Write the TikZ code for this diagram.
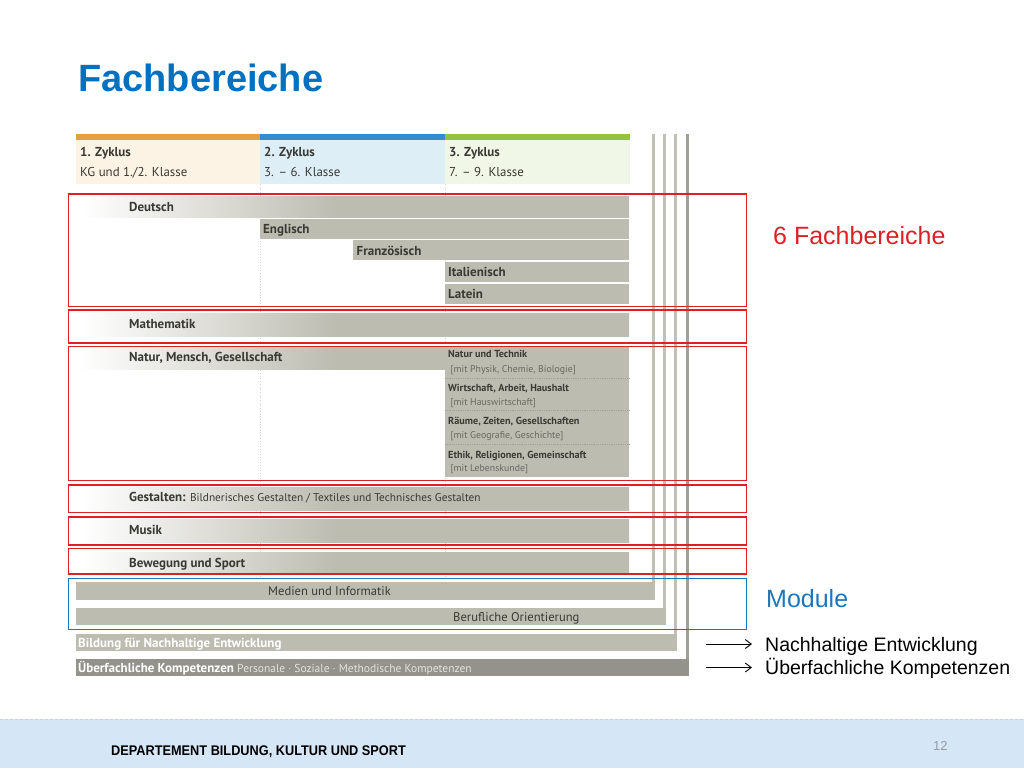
\documentclass[tikz,border=0pt]{standalone}
\usepackage{fontspec}
\setmainfont{Liberation Sans}
\newfontfamily\dinfont{PT Sans}
\usetikzlibrary{arrows.meta}
\definecolor{titleblue}{RGB}{0,112,192}
\definecolor{markred}{RGB}{220,32,38}
\definecolor{moduleblue}{RGB}{28,118,188}
\definecolor{zorange}{RGB}{228,160,62}
\definecolor{zblue}{RGB}{52,140,204}
\definecolor{zgreen}{RGB}{146,196,66}
\definecolor{zorangebg}{RGB}{253,243,228}
\definecolor{zbluebg}{RGB}{221,238,247}
\definecolor{zgreenbg}{RGB}{241,247,231}
\definecolor{bargray}{RGB}{189,188,177}
\definecolor{darkbar}{RGB}{147,147,139}
\definecolor{linegray}{RGB}{193,192,183}
\definecolor{darkline}{RGB}{160,160,151}
\definecolor{bartext}{RGB}{58,58,52}
\definecolor{notegray}{RGB}{105,105,96}
\definecolor{paletext}{RGB}{228,228,222}
\definecolor{footerblue}{RGB}{213,230,246}
\definecolor{pagegray}{RGB}{150,156,166}
% fading bars: white on the left, full gray from about x=335
% (the path box is mapped onto 25bp..75bp of the shading)
\pgfdeclarehorizontalshading{fadebar}{100bp}{color(0bp)=(white); color(25.5bp)=(white); color(48.5bp)=(bargray); color(100bp)=(bargray)}
\pgfdeclarehorizontalshading{fadeshort}{100bp}{color(0bp)=(white); color(25.5bp)=(white); color(60bp)=(bargray); color(100bp)=(bargray)}

\tikzset{
  subject/.style={anchor=base west, inner sep=0pt, text=bartext,
    font=\dinfont\bfseries\fontsize{13}{15}\selectfont},
  plain/.style={anchor=base west, inner sep=0pt, text=bartext,
    font=\dinfont\fontsize{12.6}{15}\selectfont},
  subhead/.style={anchor=base west, inner sep=0pt, text=bartext,
    font=\dinfont\bfseries\fontsize{10.2}{12}\selectfont},
  subnote/.style={anchor=base west, inner sep=0pt, text=notegray,
    font=\dinfont\fontsize{9.8}{12}\selectfont},
  redbox/.style={draw=markred, line width=1.3pt},
  bluebox/.style={draw=moduleblue, line width=1.3pt},
  legend/.style={anchor=base west, inner sep=0pt, text height=14pt, text depth=0pt,
    font=\fontsize{19.5}{22}\selectfont},
  legarrow/.style={-{Straight Barb[length=6pt,width=9pt]}, line width=0.9pt},
}

\begin{document}
\begin{tikzpicture}[x=1pt,y=-1pt]
  \useasboundingbox (0,0) rectangle (1024,768);
  % footer band
  \fill[footerblue] (0,719) rectangle (1024,768);
  \draw[footerblue!80!gray, line width=1pt, dash pattern=on 3pt off 2pt] (0,719) -- (1024,719);
  \node[anchor=base west, inner sep=0pt, font=\bfseries\fontsize{14}{16}\selectfont] (dept) at (111,755)
    {\scalebox{0.91}[1]{DEPARTEMENT BILDUNG, KULTUR UND SPORT}};
  \node[anchor=base west, inner sep=0pt, text=pagegray, font=\fontsize{13}{15}\selectfont] (pageno) at (933,750) {12};

  % title
  \node[anchor=base west, inner sep=0pt, text=titleblue, font=\bfseries\fontsize{38}{40}\selectfont]
    (title) at (78,91) {Fachbereiche};

  % header: three cycles
  \foreach \x/\c/\n/\k in {76/zorange/1/{KG und 1./2. Klasse},
                           260/zblue/2/{3. – 6. Klasse},
                           445/zgreen/3/{7. – 9. Klasse}} {
    \fill[\c] (\x,134) rectangle (\x+184.5,140);
    \fill[\c bg] (\x,140) rectangle (\x+184.5,184);
    \node[subject] (zyklus\n) at (\x+4,156.5) {\n. Zyklus};
    \node[plain, font=\dinfont\fontsize{12.9}{15}\selectfont] (klasse\n) at (\x+4,176.5) {\k};
  }

  % dotted cycle borders
  \foreach \x in {260,445}
    \draw[gray!35, dotted, line width=0.7pt] (\x,184) -- (\x,578);

  % vertical lines of the modules
  \draw[linegray, line width=3pt] (653,134) -- (653,590);
  \draw[linegray, line width=3pt] (664,134) -- (664,615);
  \draw[linegray, line width=3pt] (675.5,134) -- (675.5,640);
  \draw[darkline, line width=3pt] (687,134) -- (687,665);

  % subjects fading in from the left
  \foreach \ya/\yb in {196/217, 313/336, 487/510, 519/542, 552/573}
    \shade[shading=fadebar] (76,\ya) rectangle (629,\yb);
  \shade[shading=fadeshort] (76,347) rectangle (445,369);

  % languages
  \foreach \x/\ya/\yb in {260/218.5/238.5, 353/240/260, 445/262/282, 445/283.5/304}
    \fill[bargray] (\x,\ya) rectangle (629,\yb);

  % Natur, Mensch, Gesellschaft: third cycle
  \fill[bargray] (445,347) rectangle (629,477);
  \foreach \y in {378.5,410,444}
    \draw[darkline, densely dotted, line width=0.8pt] (445,\y) -- (629,\y);

  % modules
  \fill[bargray] (76,582) rectangle (654.5,599.5);
  \fill[bargray] (76,608) rectangle (665.5,625);
  \fill[bargray] (76,633.5) rectangle (677,651);
  \fill[darkbar] (76,659) rectangle (688.5,676);

  % subject labels
  \node[subject] (deutsch) at (129,211.5) {Deutsch};
  \node[subject] (englisch) at (263,233) {Englisch};
  \node[subject] (franz) at (356.5,255) {Französisch};
  \node[subject] (ital) at (448,276.5) {Italienisch};
  \node[subject] (latein) at (448,298.5) {Latein};
  \node[subject] (mathe) at (129,328.5) {Mathematik};
  \node[subject] (nmg) at (129,361) {Natur, Mensch, Gesellschaft};
  \node[subhead] (nt) at (448,357.5) {Natur und Technik};
  \node[subnote] (ntnote) at (450.5,372) {[mit Physik, Chemie, Biologie]};
  \node[subhead] (wah) at (448,391.5) {Wirtschaft, Arbeit, Haushalt};
  \node[subnote] (wahnote) at (450.5,405) {[mit Hauswirtschaft]};
  \node[subhead] (rzg) at (448,424.5) {Räume, Zeiten, Gesellschaften};
  \node[subnote] (rzgnote) at (450.5,438.5) {[mit Geografie, Geschichte]};
  \node[subhead] (erg) at (448,458) {Ethik, Religionen, Gemeinschaft};
  \node[subnote] (ergnote) at (450.5,471.5) {[mit Lebenskunde]};
  \node[subject] (gestalten) at (129,501.5)
    {Gestalten: {\mdseries\fontsize{11.3}{13}\selectfont Bildnerisches Gestalten / Textiles und Technisches Gestalten}};
  \node[subject] (musik) at (129,534.5) {Musik};
  \node[subject] (sport) at (129,567) {Bewegung und Sport};
  \node[plain] (medien) at (268,595) {Medien und Informatik};
  \node[plain] (beruf) at (453,621.5) {Berufliche Orientierung};
  \node[subject, text=white] (bne) at (78,647) {Bildung für Nachhaltige Entwicklung};
  \node[subject, text=white] (ueber) at (78,672)
    {Überfachliche Kompetenzen {\mdseries\fontsize{11.5}{13}\selectfont\color{paletext}Personale · Soziale · Methodische Kompetenzen}};

  % marks
  \foreach \ya/\yb in {194/306.5, 310/343, 346.5/480.5, 485/512.5, 517/545, 548.5/574}
    \draw[redbox] (68.5,\ya) rectangle (746.5,\yb);
  \draw[bluebox] (68.5,578.5) rectangle (746.5,629.5);

  % legend
  \node[anchor=base west, inner sep=0pt, text=markred, font=\fontsize{25}{28}\selectfont]
    (fachlabel) at (773,244) {6 Fachbereiche};
  \node[anchor=base west, inner sep=0pt, text=moduleblue, font=\fontsize{25}{28}\selectfont]
    (modlabel) at (766,607) {Module};
  \node[legend] (nachhaltig) at (765,651) {Nachhaltige Entwicklung};
  \node[legend] (kompetenz) at (765,674.5) {Überfachliche Kompetenzen};
  \coordinate (nstart) at (706,644);
  \coordinate (kstart) at (706,667.5);
  \draw[legarrow] (nstart) -- ([xshift=-13pt]nachhaltig.west);
  \draw[legarrow] (kstart) -- ([xshift=-13pt]kompetenz.west);
\end{tikzpicture}
\end{document}
